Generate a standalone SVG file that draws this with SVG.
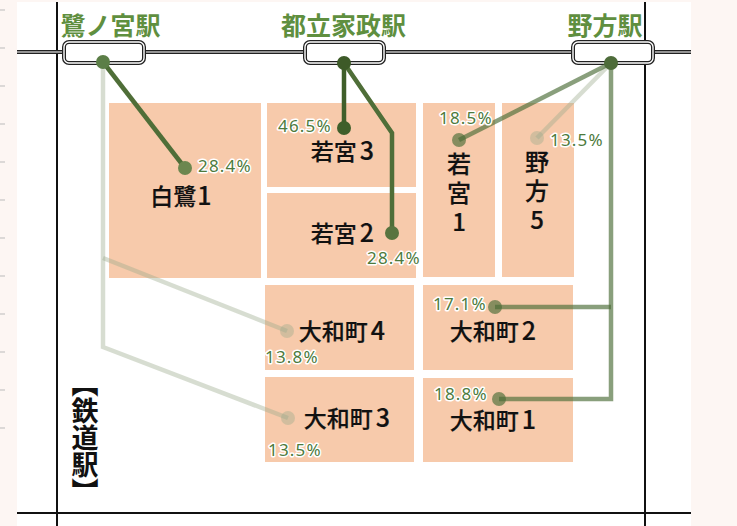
<svg xmlns="http://www.w3.org/2000/svg" width="737" height="526" viewBox="0 0 737 526">
<style>
.cell{fill:#f7caab}
.lbl{font-family:"Noto Sans CJK JP","Noto Sans",sans-serif;font-size:23px;font-weight:500;fill:#111;stroke:#111;stroke-width:0.2px;text-anchor:middle}
.dg{font-size:25px}
.vl{font-family:"Noto Sans CJK JP","Noto Sans",sans-serif;font-size:24px;font-weight:500;fill:#111;stroke:#111;stroke-width:0.2px;writing-mode:vertical-rl;text-orientation:upright;letter-spacing:5px}
.st{font-family:"Noto Sans CJK JP","Noto Sans",sans-serif;font-size:25px;font-weight:bold;fill:#5f8f3f;text-anchor:middle}
.pct{font-family:"Noto Sans","DejaVu Sans",sans-serif;font-size:17px;letter-spacing:1.2px;fill:#4d7a3c;stroke:#fff;stroke-width:3px;paint-order:stroke;stroke-linejoin:round}
.box{fill:#fff;stroke:#222;stroke-width:4}
.boxi{fill:none;stroke:#fff;stroke-width:1.4}
.c1{stroke:#3f5f2a;fill:none;stroke-width:4.5}
.c2{stroke:#4f6e38;fill:none;stroke-width:4.5}
.c3{stroke:#4a6b35;stroke-opacity:0.65;fill:none;stroke-width:4.5}
.c4{stroke:#9aab8c;stroke-opacity:0.4;fill:none;stroke-width:4.5}
.d1{fill:#3f5f2a}
.d2{fill:#58743f}
.d2b{fill:#6c874f}
.d3{fill:#4a6b35;fill-opacity:0.65}
.d4{fill:#9aab8c;fill-opacity:0.4}
.tick{stroke:#bbb;stroke-width:1}
</style>
<rect x="0" y="0" width="737" height="526" fill="#fdf6f3"/>
<rect x="17" y="2" width="674" height="524" fill="#fff"/>
<g id="ticks">
<line class="tick" x1="0" y1="10" x2="5" y2="10"/>
<line class="tick" x1="0" y1="48" x2="5" y2="48"/>
<line class="tick" x1="0" y1="86" x2="5" y2="86"/>
<line class="tick" x1="0" y1="124" x2="5" y2="124"/>
<line class="tick" x1="0" y1="162" x2="5" y2="162"/>
<line class="tick" x1="0" y1="200" x2="5" y2="200"/>
<line class="tick" x1="0" y1="238" x2="5" y2="238"/>
<line class="tick" x1="0" y1="276" x2="5" y2="276"/>
<line class="tick" x1="0" y1="314" x2="5" y2="314"/>
<line class="tick" x1="0" y1="352" x2="5" y2="352"/>
<line class="tick" x1="0" y1="390" x2="5" y2="390"/>
<line class="tick" x1="0" y1="428" x2="5" y2="428"/>
</g>
<g id="frame">
<line x1="57" y1="2" x2="57" y2="526" stroke="#111" stroke-width="2"/>
<line x1="645" y1="2" x2="645" y2="526" stroke="#111" stroke-width="2"/>
<line x1="17" y1="513" x2="691" y2="513" stroke="#111" stroke-width="2"/>
<line x1="17" y1="52" x2="691" y2="52" stroke="#222" stroke-width="4"/>
<line x1="17" y1="52" x2="691" y2="52" stroke="#bbb" stroke-width="1.4"/>
</g>
<g id="cells">
<g id="n-shirasagi1"><rect class="cell" x="109" y="103" width="152" height="175"/><text class="lbl" x="181" y="205">白鷺<tspan class="dg" dx="1">1</tspan></text></g>
<g id="n-wakamiya3"><rect class="cell" x="267" y="103" width="149" height="84"/><text class="lbl" x="342.5" y="160">若宮<tspan class="dg" dx="3">3</tspan></text></g>
<g id="n-wakamiya2"><rect class="cell" x="267" y="193" width="149" height="85"/><text class="lbl" x="342.5" y="242">若宮<tspan class="dg" dx="3">2</tspan></text></g>
<g id="n-wakamiya1"><rect class="cell" x="423" y="103" width="72" height="174"/><text class="vl" x="459" y="152">若宮1</text></g>
<g id="n-nogata5"><rect class="cell" x="502" y="103" width="72" height="174"/><text class="vl" x="537" y="150">野方5</text></g>
<g id="n-yamato4"><rect class="cell" x="265" y="285" width="149" height="85"/><text class="lbl" x="342" y="340">大和町<tspan class="dg" dx="3">4</tspan></text></g>
<g id="n-yamato3"><rect class="cell" x="265" y="377" width="149" height="85"/><text class="lbl" x="347" y="427">大和町<tspan class="dg" dx="3">3</tspan></text></g>
<g id="n-yamato2"><rect class="cell" x="423" y="285" width="150" height="85"/><text class="lbl" x="493" y="340">大和町<tspan class="dg" dx="3">2</tspan></text></g>
<g id="n-yamato1"><rect class="cell" x="423" y="378" width="150" height="84"/><text class="lbl" x="493" y="429">大和町<tspan class="dg" dx="3">1</tspan></text></g>
</g>
<g id="stations">
<g id="s-saginomiya"><text class="st" x="110.5" y="35">鷺ノ宮駅</text><rect class="box" x="64" y="42" width="80" height="21" rx="5"/><rect class="boxi" x="64" y="42" width="80" height="21" rx="5"/></g>
<g id="s-toritsukasei"><text class="st" x="343.5" y="35">都立家政駅</text><rect class="box" x="305" y="42" width="79" height="21" rx="5"/><rect class="boxi" x="305" y="42" width="79" height="21" rx="5"/></g>
<g id="s-nogata"><text class="st" x="605" y="35">野方駅</text><rect class="box" x="573" y="42" width="80" height="21" rx="5"/><rect class="boxi" x="573" y="42" width="80" height="21" rx="5"/></g>
</g>
<g id="connectors">
<polyline class="c4" points="103,62 103,347 288,418"/>
<polyline class="c4" points="103,258 287,331"/>
<polyline class="c4" points="611,63 537,138"/>
<polyline class="c2" points="103,62 185,168"/>
<polyline class="c1" points="344,63 344,128"/>
<polyline class="c2" points="344,63 392,133 392,233"/>
<polyline class="c3" points="611,63 459,140"/>
<polyline class="c3" points="611,63 611,399 499,399"/>
<polyline class="c3" points="611,307 495,307"/>
<circle class="d4" cx="287" cy="331" r="7"/>
<circle class="d4" cx="288" cy="418" r="7"/>
<circle class="d4" cx="537" cy="138" r="7"/>
<circle class="d2b" cx="185" cy="168" r="7"/>
<circle class="d1" cx="344" cy="128" r="7"/>
<circle class="d2" cx="392" cy="233" r="7"/>
<circle class="d3" cx="459" cy="140" r="7"/>
<circle class="d3" cx="495" cy="307" r="7"/>
<circle class="d3" cx="499" cy="399" r="7"/>
<circle fill="#5b7e47" cx="103" cy="62" r="7"/>
<circle fill="#3d5a28" cx="344" cy="63" r="7"/>
<circle fill="#4e6c3a" cx="611" cy="63" r="7"/>
</g>
<g id="labels">
<text class="pct" x="198" y="172">28.4%</text>
<text class="pct" x="278" y="132">46.5%</text>
<text class="pct" x="367" y="264">28.4%</text>
<text class="pct" x="439" y="124">18.5%</text>
<text class="pct" x="550" y="146">13.5%</text>
<text class="pct" x="265" y="363">13.8%</text>
<text class="pct" x="268" y="456">13.5%</text>
<text class="pct" x="433" y="310">17.1%</text>
<text class="pct" x="434" y="400">18.8%</text>
</g>
<g id="legend">
<text x="85" y="370" style="writing-mode:vertical-rl" font-family="Noto Sans CJK JP, sans-serif" font-size="27" font-weight="bold" fill="#111">【鉄道駅】</text>
</g>
</svg>
